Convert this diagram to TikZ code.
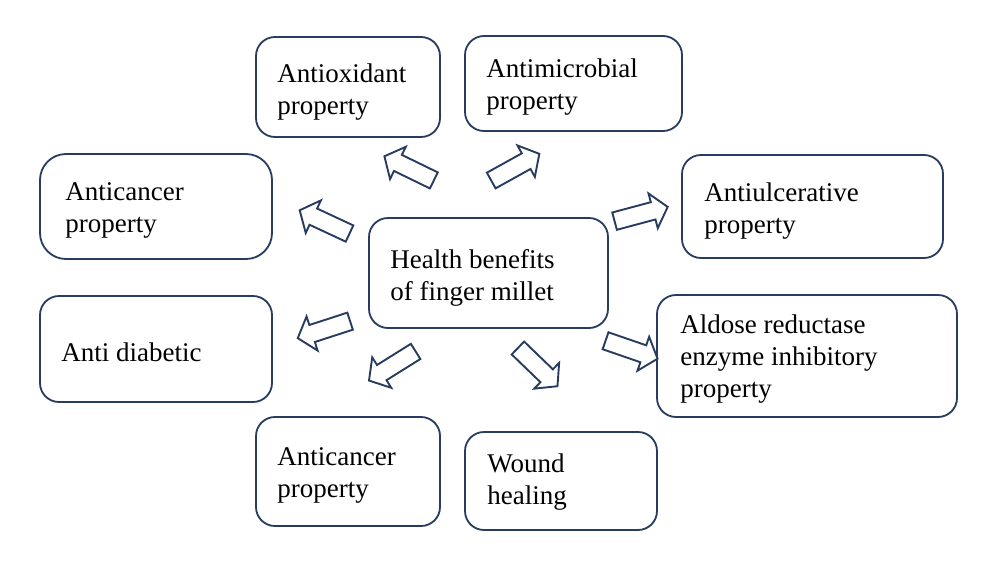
\documentclass[tikz,border=0pt]{standalone}
\usepackage{fontspec}
\setmainfont{Liberation Serif}
\usetikzlibrary{shapes.arrows}
\definecolor{navy}{RGB}{40,60,96}
\begin{document}
\begin{tikzpicture}[x=1pt,y=-1pt,
  box/.style={draw=navy, line width=1.8pt, rounded corners=19pt, inner sep=0pt},
  txt/.style={anchor=west, align=left, inner sep=0pt, font=\fontsize{27}{32}\selectfont, text=black},
  blockarrow/.style={single arrow, draw=navy, line width=1.9pt, fill=white,
    inner xsep=0pt, inner ysep=8pt, single arrow head extend=9pt,
    single arrow head indent=0pt, single arrow tip angle=100, minimum height=55pt}]
\useasboundingbox[fill=white] (0,0) rectangle (1004,573);

\node[box, minimum width=184pt, minimum height=100pt] (antiox) at (348,87) {};
\node[box, minimum width=217pt, minimum height=95pt] (antimic) at (573.5,83.5) {};
\node[box, rounded corners=26pt, minimum width=232pt, minimum height=105pt] (cancer1) at (156,206.5) {};
\node[box, minimum width=261pt, minimum height=103pt] (ulcer) at (812.5,206.5) {};
\node[box, minimum width=239pt, minimum height=110pt] (center) at (488.5,273) {};
\node[box, minimum width=232pt, minimum height=106pt] (diab) at (156,349) {};
\node[box, minimum width=300pt, minimum height=122pt] (aldose) at (807,356) {};
\node[box, minimum width=184pt, minimum height=109pt] (cancer2) at (348,471.5) {};
\node[box, minimum width=192pt, minimum height=98pt] (wound) at (561,481) {};

\node[txt] (antiox-t) at ([xshift=22pt,yshift=-5pt]antiox.west) {Antioxidant\\property};
\node[txt] (antimic-t) at ([xshift=22pt,yshift=-4pt]antimic.west) {Antimicrobial\\property};
\node[txt] (cancer1-t) at ([xshift=26pt,yshift=-4pt]cancer1.west) {Anticancer\\property};
\node[txt] (ulcer-t) at ([xshift=23pt,yshift=-5pt]ulcer.west) {Antiulcerative\\property};
\node[txt] (center-t) at ([xshift=22pt,yshift=-5pt]center.west) {Health benefits\\of finger millet};
\node[txt] (diab-t) at ([xshift=22pt,yshift=-3pt]diab.west) {Anti diabetic};
\node[txt] (aldose-t) at ([xshift=24pt,yshift=-3pt]aldose.west) {Aldose reductase\\enzyme inhibitory\\property};
\node[txt] (cancer2-t) at ([xshift=22pt,yshift=-4pt]cancer2.west) {Anticancer\\property};
\node[txt] (wound-t) at ([xshift=23pt,yshift=-1pt]wound.west) {Wound\\healing};

\node[blockarrow, rotate=154] (a1) at (412.5,170) {};
\node[blockarrow, rotate=29] (a2) at (512,169) {};
\node[blockarrow, rotate=155] (a3) at (328,223.5) {};
\node[blockarrow, rotate=198] (a4) at (327.5,328.5) {};
\node[blockarrow, rotate=212] (a5) at (395.5,364) {};
\node[blockarrow, rotate=-44] (a6) at (535,364.5) {};
\node[blockarrow, rotate=-19] (a7) at (628,348.5) {};
\node[blockarrow, rotate=15] (a8) at (637.5,215) {};
\end{tikzpicture}
\end{document}
